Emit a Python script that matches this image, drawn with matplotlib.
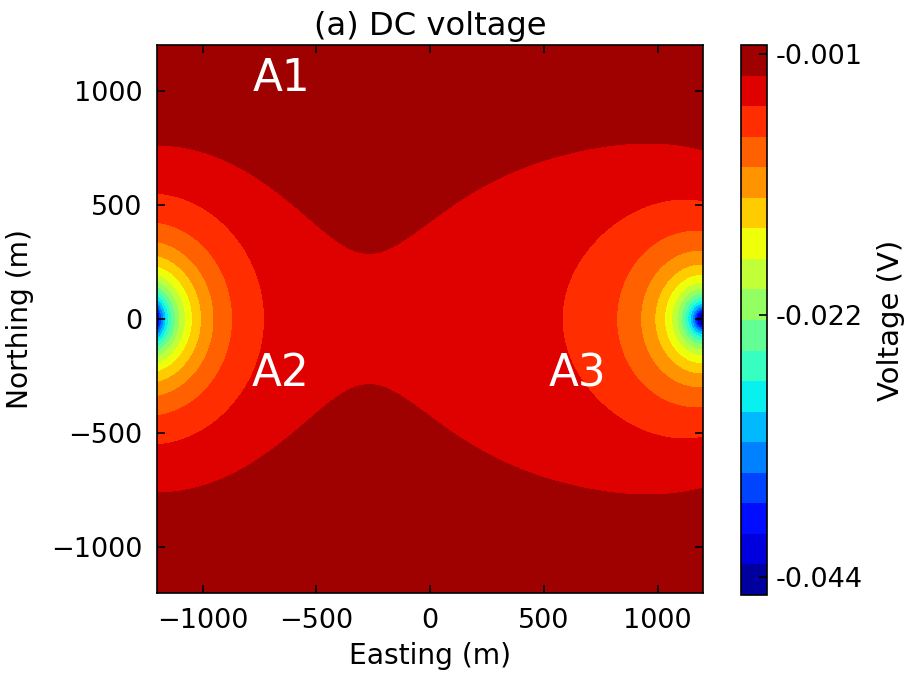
import numpy as np
import matplotlib
matplotlib.use('Agg')
import matplotlib.pyplot as plt

# ---- values ----
easting_limits = [-1200, 1200]
northing_limits = [-1200, 1200]
xticks = [-1000, -500, 0, 500, 1000]
yticks = [-1000, -500, 0, 500, 1000]

# current electrodes (sinks) at the west and east edges of the survey
source_x = [-1253.2, 1200.0]
source_y = [0.0, 0.0]
source_strength = [5.197, 4.392]        # V*m
source_softening = [56.5, 74.6]         # m
source_anisotropy = [0.855, 0.826]      # northing stretch
background_offset = 0.006287            # V

# broad regional low shaping the red / dark-red boundary
regional_x = [366.0]
regional_y = [0.0]
regional_sx = [591.1]
regional_sy = [851.9]
regional_amp = [-0.0027045]

level_min, level_max = -0.0455, -0.0003
n_bands = 18
cbar_ticks = [-0.001, -0.0225, -0.044]
cbar_ticklabels = ['-0.001', '-0.022', '-0.044']

anomaly_labels = ['A1', 'A2', 'A3']
anomaly_label_x = [-655, -655, 650]
anomaly_label_y = [1055, -240, -240]

# ---- potential field on the map grid ----
xg = np.linspace(easting_limits[0], easting_limits[1], 401)
yg = np.linspace(northing_limits[0], northing_limits[1], 401)
X, Y = np.meshgrid(xg, yg)
V = np.full_like(X, background_offset)
for sx, sy, q, s, a in zip(source_x, source_y, source_strength,
                           source_softening, source_anisotropy):
    V -= q / (np.hypot(X - sx, a * (Y - sy)) + s)
for bx, by, wx, wy, amp in zip(regional_x, regional_y, regional_sx,
                               regional_sy, regional_amp):
    V += amp * np.exp(-(X - bx) ** 2 / (2 * wx ** 2) - (Y - by) ** 2 / (2 * wy ** 2))
levels = np.linspace(level_min, level_max, n_bands + 1)
V = np.clip(V, level_min + 1e-9, level_max - 1e-9)

# ---- figure ----
plt.rcParams['font.family'] = 'DejaVu Sans'
fig = plt.figure(figsize=(906 / 150, 675 / 150), dpi=150)
ax = fig.add_axes([0.1733, 0.1215, 0.6027, 0.8118])
cf = ax.contourf(X, Y, V, levels=levels, cmap='jet')
ax.set_xlim(easting_limits)
ax.set_ylim(northing_limits)
ax.set_xticks(xticks)
ax.set_yticks(yticks)
ax.tick_params(direction='in', top=True, right=True, length=4, width=0.8,
               labelsize=13, pad=7)
ax.set_xlabel('Easting (m)', fontsize=13.5, labelpad=4)
ax.set_ylabel('Northing (m)', fontsize=13.5, labelpad=8)
ax.set_title('(a) DC voltage', fontsize=15.5, pad=5)
for lab, lx, ly in zip(anomaly_labels, anomaly_label_x, anomaly_label_y):
    ax.text(lx, ly, lab, color='white', fontsize=21, ha='center', va='center')

cax = fig.add_axes([0.818, 0.1185, 0.0287, 0.8148])
cb = fig.colorbar(cf, cax=cax)
cb.set_ticks(cbar_ticks)
cb.set_ticklabels(cbar_ticklabels)
cax.tick_params(direction='in', length=4, width=0.8, labelsize=13, pad=4)
cb.set_label('Voltage (V)', fontsize=14, labelpad=7)
cb.outline.set_linewidth(0.8)

fig.savefig('out.png', dpi=150)
